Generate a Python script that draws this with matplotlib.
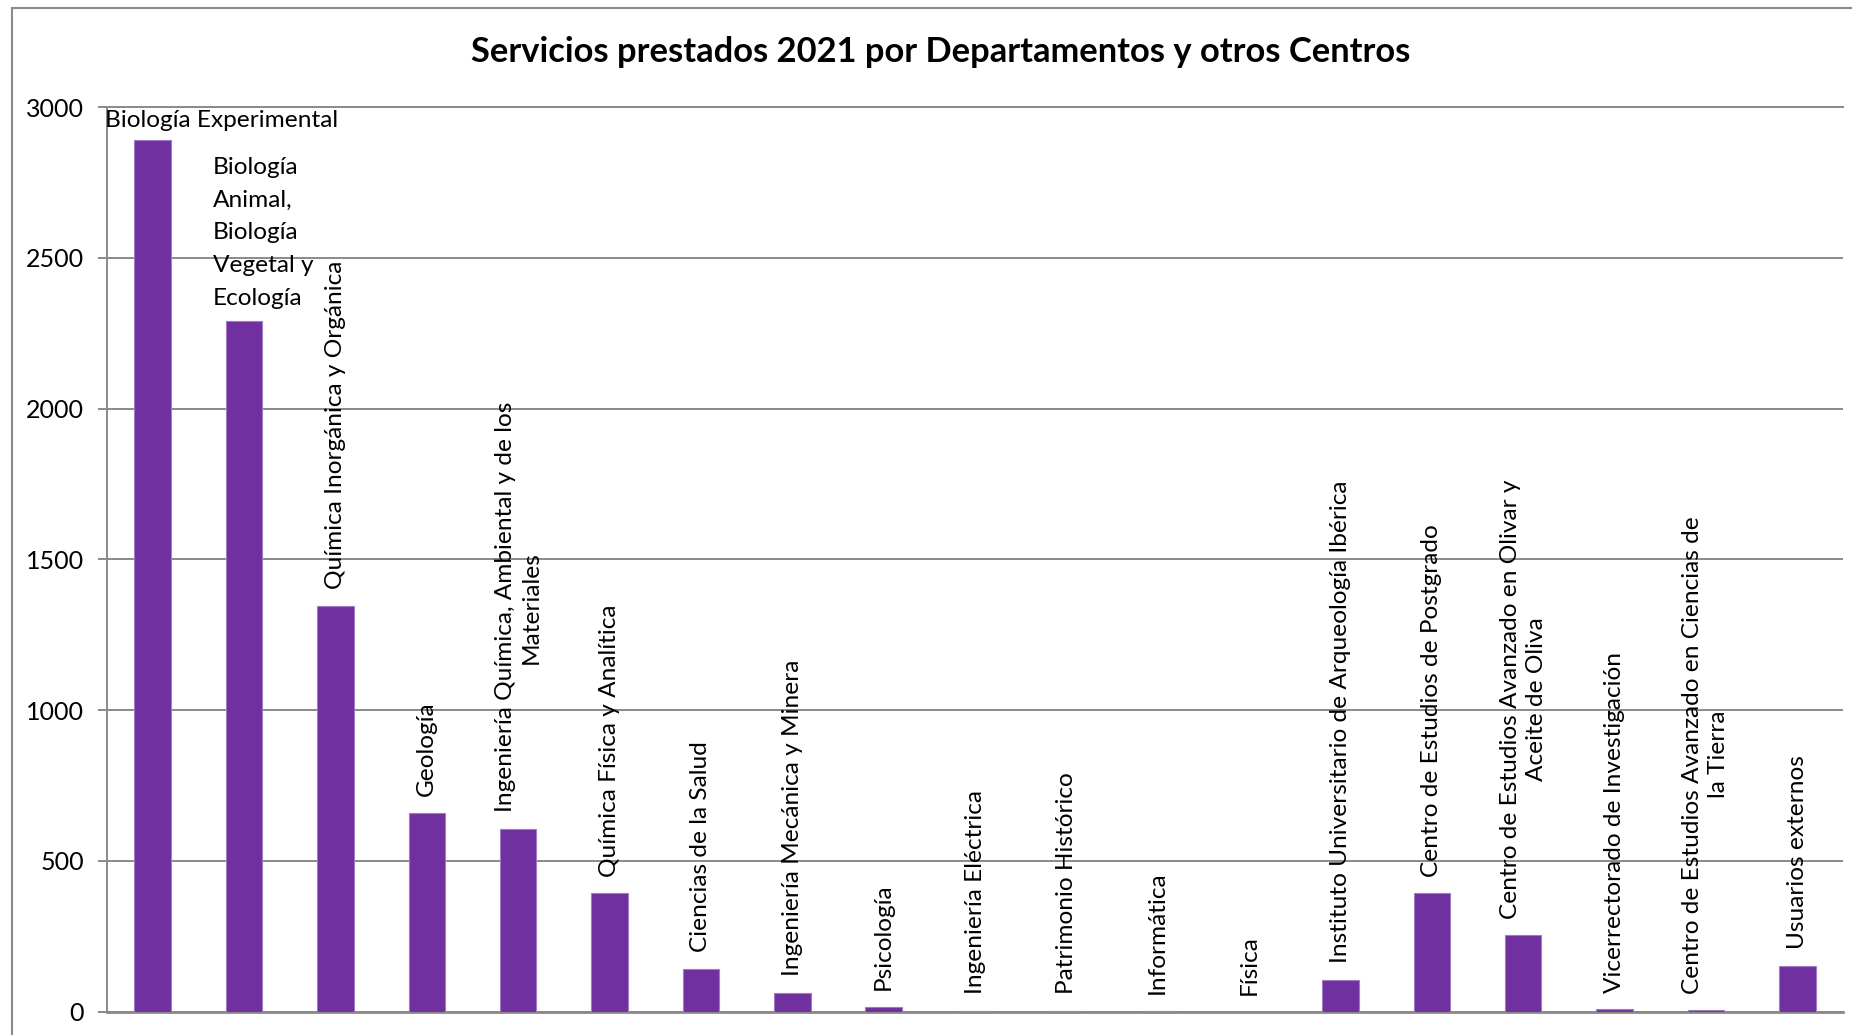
import matplotlib.pyplot as plt
from matplotlib.patches import Rectangle

plt.rcParams['font.family'] = ['Lato', 'DejaVu Sans']

# Servicios por departamento / centro (2021)
departamentos = [
    "Biología Experimental",
    "Biología\nAnimal,\nBiología\nVegetal y\nEcología",
    "Química Inorgánica y Orgánica",
    "Geología",
    "Ingeniería Química, Ambiental y de los\nMateriales",
    "Química Física y Analítica",
    "Ciencias de la Salud",
    "Ingeniería Mecánica y Minera",
    "Psicología",
    "Ingeniería Eléctrica",
    "Patrimonio Histórico",
    "Informática",
    "Física",
    "Instituto Universitario de Arqueología Ibérica",
    "Centro de Estudios de Postgrado",
    "Centro de Estudios Avanzado en Olivar y\nAceite de Oliva",
    "Vicerrectorado de Investigación",
    "Centro de Estudios Avanzado en Ciencias de\nla Tierra",
    "Usuarios externos",
]
servicios = [2889, 2291, 1345, 659, 606, 392, 142, 63, 17, 3, 3, 2, 0,
             105, 392, 253, 8, 5, 153]
marcas_y = [0, 500, 1000, 1500, 2000, 2500, 3000]
titulo = "Servicios prestados 2021 por Departamentos y otros Centros"

W, H = 1852, 1035
fig = plt.figure(figsize=(W / 100, H / 100), dpi=100)

gris = '#8a8a8a'
morado = '#7030A0'

# marco del grafico (se sale por la derecha y por abajo)
fig.patches.append(Rectangle((12 / W, -0.1), 2, 1 - 8 / H + 0.1,
                             transform=fig.transFigure, fill=False,
                             ec=gris, lw=1.5))

ax = fig.add_axes([107 / W, (H - 1011.7) / H, (1843 - 107) / W, (1011.7 - 107) / H])

x = list(range(len(servicios)))
ax.bar(x, servicios, width=0.4, color=morado, edgecolor='#a07cc4',
       linewidth=0.8, zorder=3)

ax.set_xlim(-0.5, len(servicios) - 0.5)
ax.set_ylim(0, 3000)
ax.set_yticks(marcas_y)
ax.yaxis.grid(True, color=gris, lw=1.4)
ax.set_axisbelow(True)
ax.tick_params(axis='y', length=6.5, width=1.4, color=gris, pad=10, labelsize=18)
ax.tick_params(axis='x', length=0, labelbottom=False)
for lado in ['top', 'right']:
    ax.spines[lado].set_visible(False)
ax.spines['left'].set_color(gris)
ax.spines['left'].set_linewidth(1.4)
ax.spines['bottom'].set_color(gris)
ax.spines['bottom'].set_linewidth(2)
ax.axhline(3000, color=gris, lw=1.4, clip_on=False, zorder=1)

# etiquetas con el nombre del departamento encima de cada barra
fs = 17.6
ax.annotate(departamentos[0], xy=(0, servicios[0]), xytext=(-34, 7),
            textcoords='offset points', ha='left', va='bottom', fontsize=fs)
ax.annotate(departamentos[1], xy=(1, servicios[1]), xytext=(-22.7, 8.6),
            textcoords='offset points', ha='left', va='bottom', fontsize=fs,
            multialignment='left', linespacing=1.69)
for i in range(2, len(servicios)):
    ax.annotate(departamentos[i], xy=(i, servicios[i]), xytext=(0, 12),
                textcoords='offset points', rotation=90, ha='center',
                va='bottom', multialignment='center', fontsize=fs,
                linespacing=1.3)

fig.text(941 / W, 1 - 52 / H, titulo, ha='center', va='center',
         fontsize=24.8, fontweight='bold')

fig.savefig('out.png', dpi=100)
